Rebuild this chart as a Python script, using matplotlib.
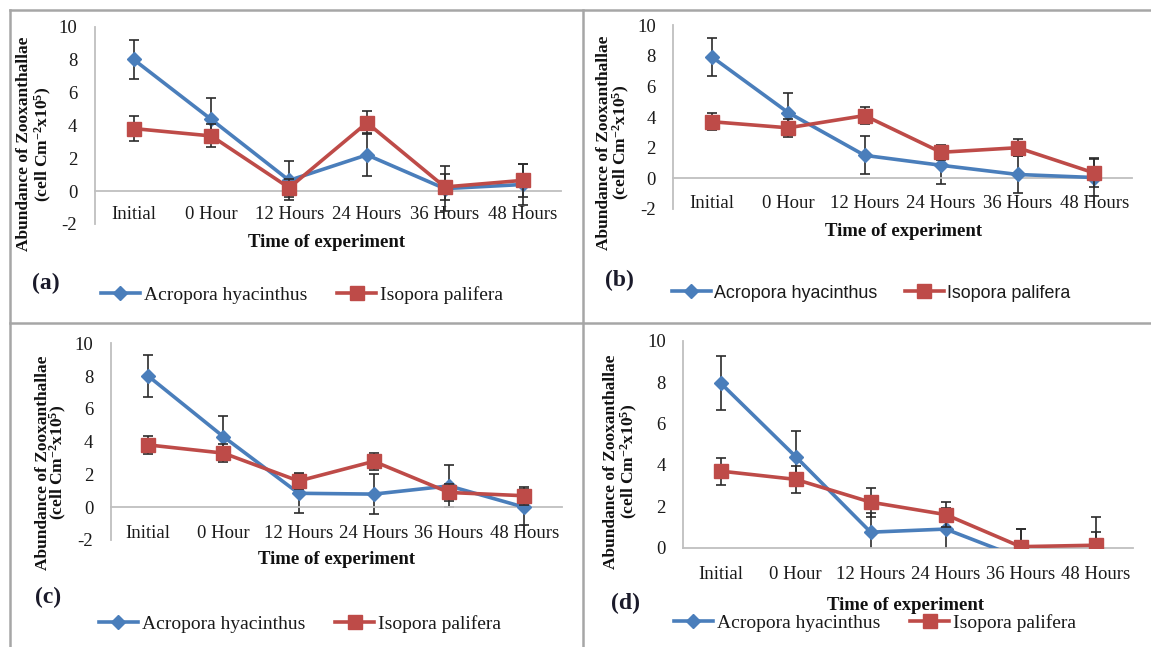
import matplotlib
matplotlib.use("Agg")
import matplotlib.pyplot as plt
from matplotlib.lines import Line2D

plt.rcParams['font.family'] = ['Liberation Serif', 'DejaVu Serif']
plt.rcParams['mathtext.fontset'] = 'custom'
plt.rcParams['mathtext.rm'] = 'Liberation Serif:bold'
plt.rcParams['mathtext.bf'] = 'Liberation Serif:bold'
plt.rcParams['mathtext.it'] = 'Liberation Serif:italic'

categories = ['Initial', '0 Hour', '12 Hours', '24 Hours', '36 Hours', '48 Hours']
series_names = ['Acropora hyacinthus', 'Isopora palifera']

# Panel (a)
a_acro = [8.0, 4.35, 0.65, 2.2, 0.15, 0.4]
a_acro_err = [1.2, 1.3, 1.2, 1.3, 1.35, 1.25]
a_iso = [3.8, 3.35, 0.2, 4.15, 0.25, 0.65]
a_iso_err = [0.75, 0.7, 0.55, 0.7, 0.8, 1.0]
# Panel (b)
b_acro = [7.95, 4.3, 1.5, 0.85, 0.25, 0.05]
b_acro_err = [1.25, 1.25, 1.25, 1.2, 1.2, 1.2]
b_iso = [3.7, 3.3, 4.1, 1.7, 2.0, 0.35]
b_iso_err = [0.55, 0.6, 0.55, 0.5, 0.55, 0.95]
# Panel (c)
c_acro = [8.0, 4.3, 0.85, 0.8, 1.3, 0.0]
c_acro_err = [1.28, 1.28, 1.2, 1.2, 1.3, 1.1]
c_iso = [3.8, 3.3, 1.6, 2.8, 0.9, 0.7]
c_iso_err = [0.55, 0.55, 0.5, 0.5, 0.5, 0.55]
# Panel (d)
d_acro = [7.95, 4.4, 0.75, 0.9, -0.5, -0.4]
d_acro_err = [1.3, 1.25, 0.95, 1.0, 1.4, 1.9]
d_iso = [3.7, 3.3, 2.2, 1.6, 0.05, 0.12]
d_iso_err = [0.65, 0.65, 0.7, 0.6, 0.85, 0.65]

yticks_full = [-2, 0, 2, 4, 6, 8, 10]
yticks_d = [0, 2, 4, 6, 8, 10]

BLUE = '#4A7EBB'
RED = '#BE4B48'
AXC = '#BFBFBF'
W, H = 1151, 647

fig = plt.figure(figsize=(W / 100, H / 100), dpi=100)


def px_axes(left, right, top, bottom):
    return fig.add_axes([left / W, 1 - bottom / H, (right - left) / W, (bottom - top) / H])


panels = [
    dict(box=(94.6, 561.5, 26.5, 224), ylim=(-2, 10), yt=yticks_full,
         acro=a_acro, acro_e=a_acro_err, iso=a_iso, iso_e=a_iso_err,
         xpad=11, xlabel=(327, 243), ylab=(35, 144), ls=1.0,
         tag='(a)', tagpos=(46, 283), leg=(100.8, 295), legfont='serif'),
    dict(box=(673.3, 1132.4, 25.3, 208.9), ylim=(-2, 10), yt=yticks_full,
         acro=b_acro, acro_e=b_acro_err, iso=b_iso, iso_e=b_iso_err,
         xpad=12, xlabel=(903.7, 231), ylab=(614, 142.5), ls=0.95,
         tag='(b)', tagpos=(619, 280), leg=(672.2, 293), legfont='sans'),
    dict(box=(110.7, 561.8, 343.3, 540), ylim=(-2, 10), yt=yticks_full,
         acro=c_acro, acro_e=c_acro_err, iso=c_iso, iso_e=c_iso_err,
         xpad=13, xlabel=(336.4, 559), ylab=(52, 462.5), ls=0.85,
         tag='(c)', tagpos=(47.7, 597), leg=(99, 624), legfont='serif'),
    dict(box=(683.2, 1133.1, 340.7, 547.7), ylim=(0, 10), yt=yticks_d,
         acro=d_acro, acro_e=d_acro_err, iso=d_iso, iso_e=d_iso_err,
         xpad=13.5, xlabel=(906, 605), ylab=(621.5, 461.7), ls=0.95,
         tag='(d)', tagpos=(625.2, 603), leg=(674, 623), legfont='serif'),
]

x = list(range(len(categories)))

for p in panels:
    ax = px_axes(*p['box'])
    ax.set_xlim(-0.5, len(categories) - 0.5)
    ax.set_ylim(*p['ylim'])
    for s in ['top', 'right']:
        ax.spines[s].set_visible(False)
    ax.spines['bottom'].set_position(('data', 0))
    for s in ['left', 'bottom']:
        ax.spines[s].set_color(AXC)
        ax.spines[s].set_linewidth(1.3)
    ax.set_xticks(x)
    ax.set_xticklabels(categories)
    ax.set_yticks(p['yt'])
    ax.set_yticklabels([str(v) for v in p['yt']])
    ax.tick_params(axis='x', length=0, pad=p['xpad'], labelsize=13.5, labelcolor='#1a1a1a')
    ax.tick_params(axis='y', length=0, pad=12.5, labelsize=13.5, labelcolor='#1a1a1a')
    ax.patch.set_alpha(0)

    for vals, errs, col, mk, ms, z in [
        (p['acro'], p['acro_e'], BLUE, 'D', 6.8, 3),
        (p['iso'], p['iso_e'], RED, 's', 10, 5),
    ]:
        ax.errorbar(x, vals, yerr=errs, fmt='none', ecolor='#2b2b2b', elinewidth=1.2,
                    capsize=3.6, capthick=1.2, zorder=z - 1)
        ax.plot(x, vals, color=col, lw=2.6, marker=mk, ms=ms, mfc=col, mec=col, zorder=z)

    # axis titles
    fig.text(p['xlabel'][0] / W, 1 - p['xlabel'][1] / H, 'Time of experiment',
             ha='center', va='center', fontsize=13.5, fontweight='bold', color='#111111')
    fig.text(p['ylab'][0] / W, 1 - p['ylab'][1] / H,
             'Abundance of Zooxanthallae\n' + r'(cell Cm$^{-2}$x10$^{5}$)',
             ha='center', va='center', rotation=90, multialignment='center',
             linespacing=p['ls'], fontsize=12.5, fontweight='bold', color='#111111')
    fig.text(p['tagpos'][0] / W, 1 - p['tagpos'][1] / H, p['tag'],
             ha='center', va='center', fontsize=17, fontweight='bold', color='#1a1a2a')

    handles = [
        Line2D([], [], color=BLUE, lw=2.6, marker='D', ms=6.8),
        Line2D([], [], color=RED, lw=2.6, marker='s', ms=10),
    ]
    if p['legfont'] == 'sans':
        prop = dict(family='Liberation Sans', size=12.9)
        hl, cs = 2.15, 1.54
    else:
        prop = dict(family='Liberation Serif', size=14)
        hl, cs = 2.0, 1.55
    fig.legend(handles, series_names, loc='center left',
               bbox_to_anchor=(p['leg'][0] / W, 1 - p['leg'][1] / H),
               ncol=2, frameon=False, borderpad=0, borderaxespad=0,
               handlelength=hl, handletextpad=0.2, columnspacing=cs,
               numpoints=1, prop=prop, labelcolor='#1a1a1a')

# panel borders
bc = '#A6A6A6'
for (x0, y0, x1, y1) in [(10, 10, W, 10), (10, 10, 10, H), (583, 10, 583, H), (10, 323, W, 323)]:
    fig.add_artist(Line2D([x0 / W, x1 / W], [1 - y0 / H, 1 - y1 / H], color=bc, lw=1.8,
                          transform=fig.transFigure))

fig.savefig('out.png', dpi=100)
